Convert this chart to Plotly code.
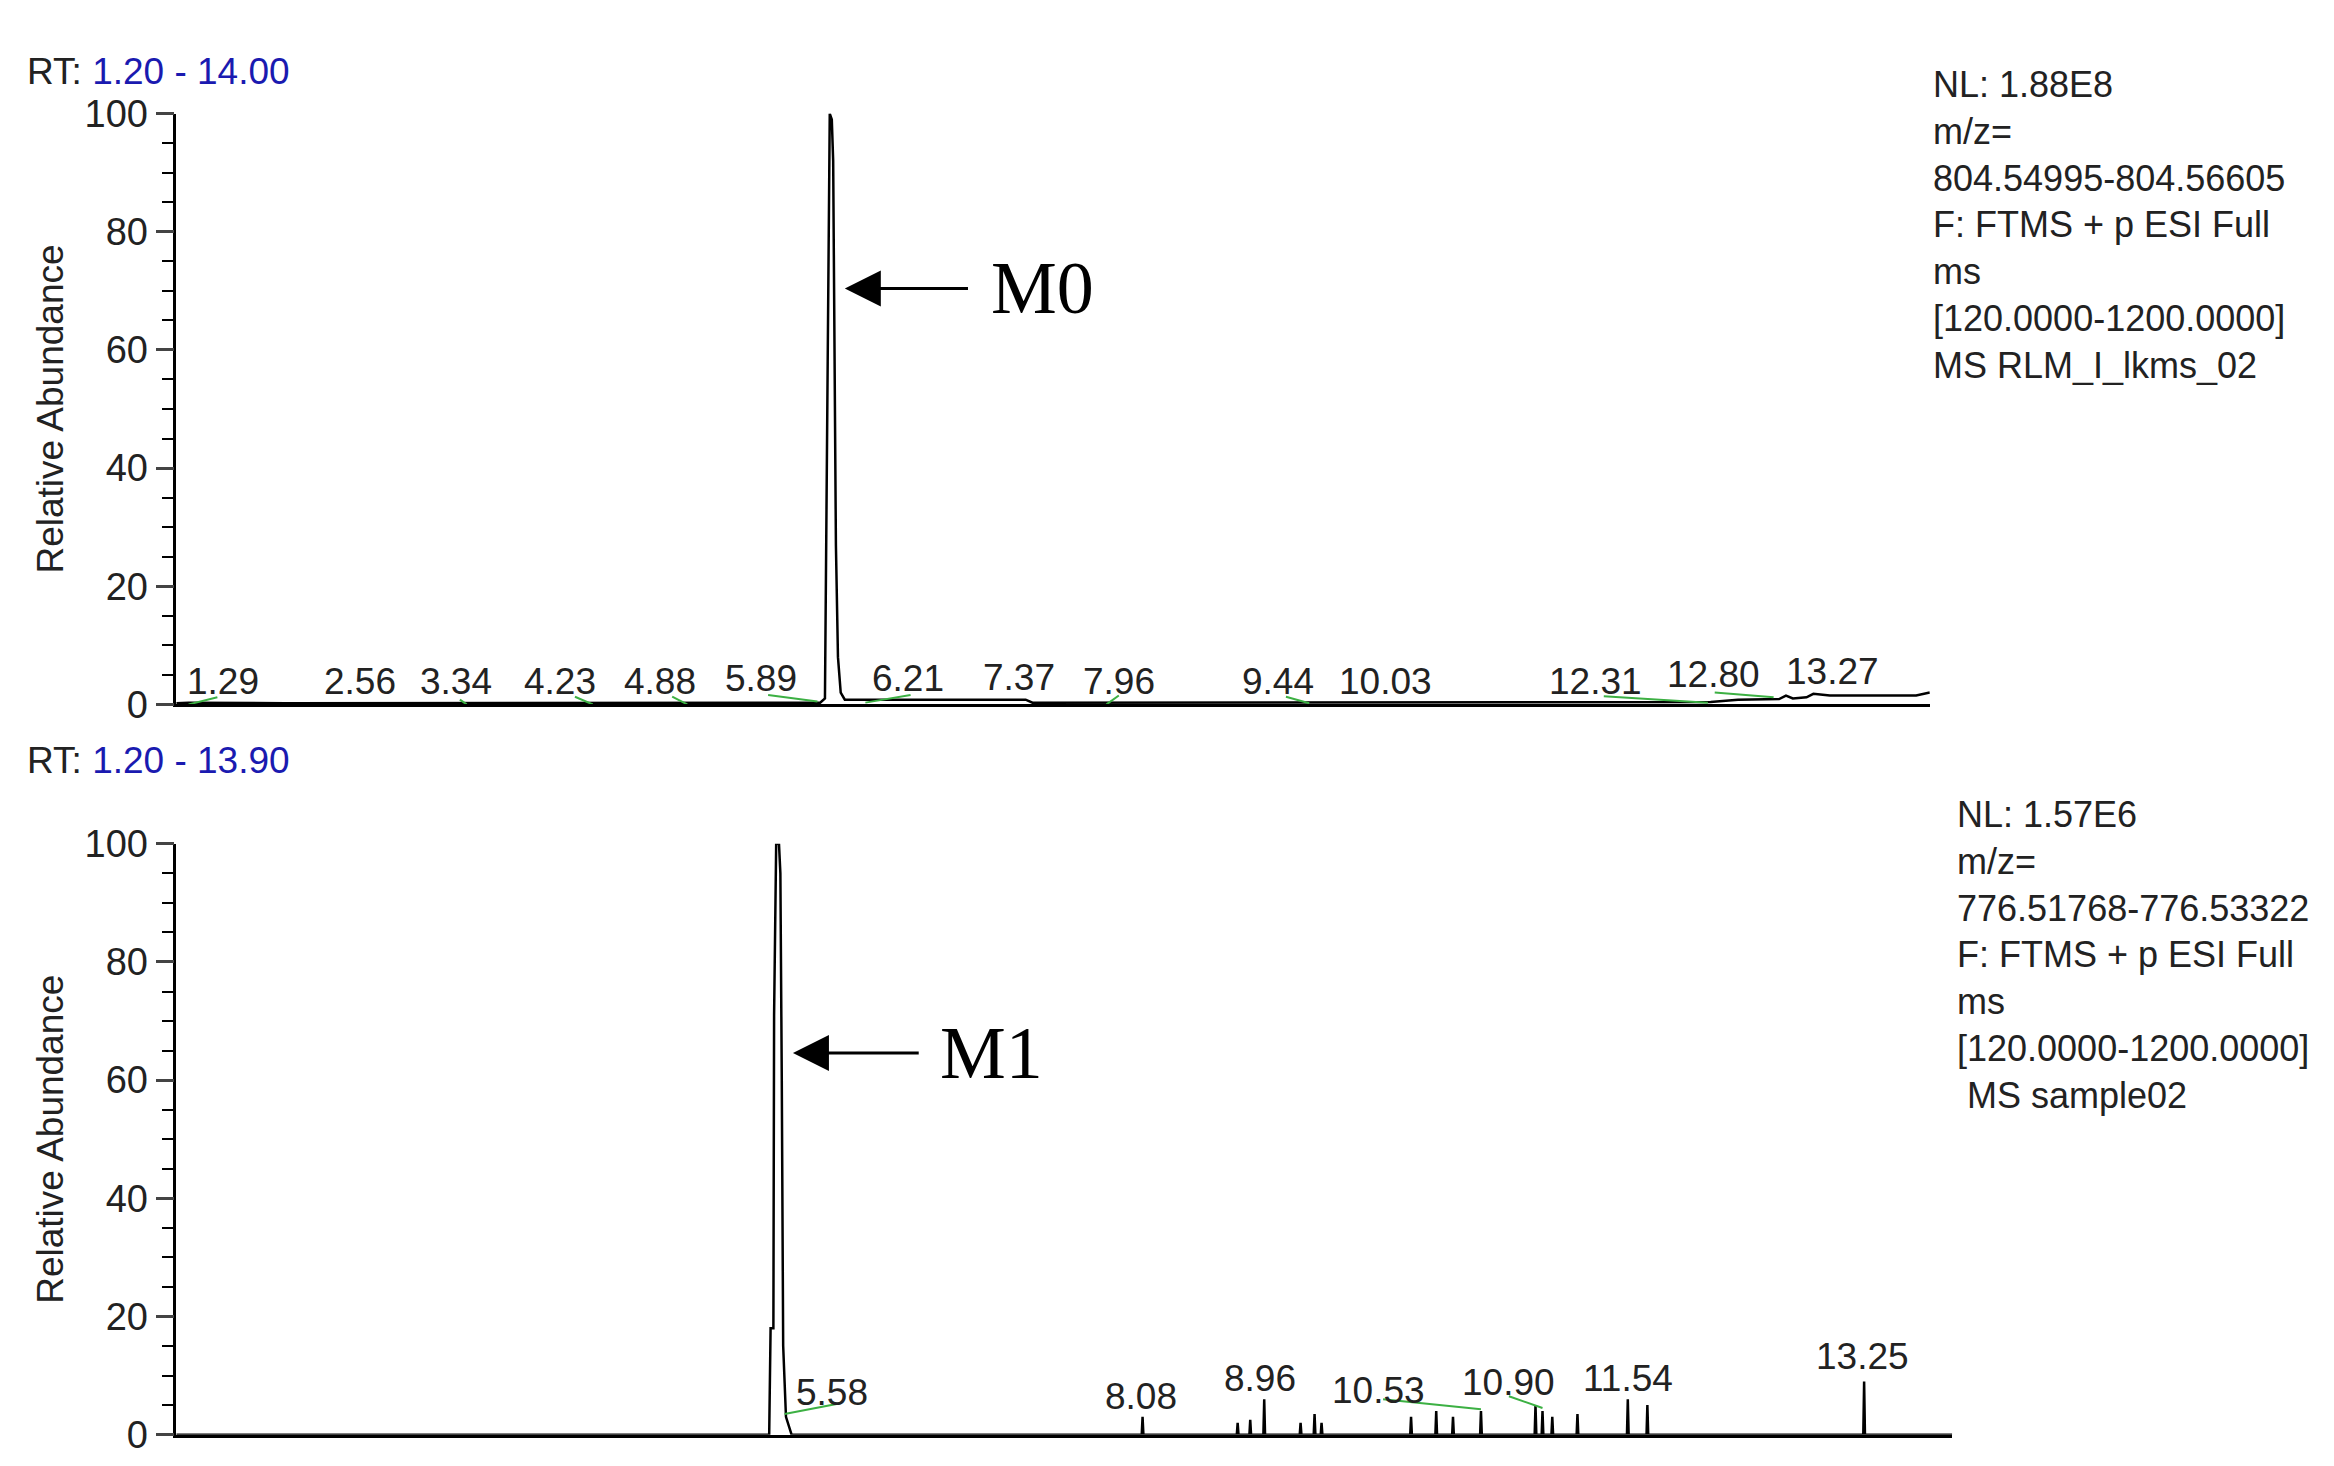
import plotly.graph_objects as go

# --- top chromatogram (M0) ---
top_rt = [1.20, 1.29, 2.0, 3.0, 4.0, 5.0, 5.90, 5.935, 5.945, 5.955, 5.97, 5.985, 5.995,
          6.005, 6.015, 6.03, 6.05, 6.08, 6.5, 7.0, 7.4, 7.45, 9.0, 11.0, 12.4, 12.6,
          12.9, 12.95, 13.0, 13.1, 13.15, 13.27, 13.5, 13.9, 14.0]
top_ab = [0.2, 0.3, 0.2, 0.2, 0.2, 0.2, 0.3, 1.0, 36, 58, 100, 99, 92,
          51, 27, 8, 2, 0.8, 0.8, 0.8, 0.8, 0.3, 0.3, 0.3, 0.4, 0.8,
          0.9, 1.5, 1.0, 1.2, 1.8, 1.5, 1.5, 1.5, 2.0]
top_labels = ["1.29", "2.56", "3.34", "4.23", "4.88", "5.89", "6.21", "7.37", "7.96",
              "9.44", "10.03", "12.31", "12.80", "13.27"]
top_label_rt = [1.54, 2.54, 3.24, 4.00, 4.73, 5.47, 6.54, 7.35, 8.08, 9.24, 10.03, 11.56, 12.42, 13.29]
top_label_ab = [3.8, 3.8, 3.8, 3.8, 3.8, 4.3, 4.3, 4.5, 3.8, 3.8, 3.8, 3.8, 5.0, 5.6]

# --- bottom chromatogram (M1) ---
bot_rt = [1.20, 5.44, 5.45, 5.47, 5.475, 5.49, 5.51, 5.52, 5.53, 5.54, 5.56, 5.60, 7.9]
bot_ab = [0.0, 0.0, 18, 18, 71, 100, 100, 95, 60, 15, 3, 0.0, 0.0]
spike_rt = [8.11, 8.79, 8.88, 8.98, 9.24, 9.34, 9.39, 10.03, 10.21, 10.33, 10.53, 10.92,
            10.97, 11.04, 11.22, 11.58, 11.72, 13.27]
spike_ab = [3, 2, 2.5, 6, 2, 3.5, 2, 3, 4, 3, 4, 5, 4, 3, 3.5, 6, 5, 9]
bot_labels = ["5.51", "5.58", "8.08", "8.96", "10.53", "10.90", "11.54", "13.25"]
bot_label_rt = [5.47, 5.89, 8.10, 8.95, 9.80, 10.73, 11.58, 13.26]
bot_label_ab = [104, 7.2, 6.5, 9.5, 7.5, 8.8, 9.5, 13.2]

# green baseline markers (start, end of integration)
top_green = [(1.29, 0, 1.50, 1.2), (3.27, 0.8, 3.32, 0), (4.11, 1.3, 4.24, 0), (4.82, 1.3, 4.93, 0),
             (5.52, 1.6, 5.88, 0.5), (6.23, 0.3, 6.56, 1.6), (7.99, 0, 8.08, 1.5), (9.30, 1.3, 9.47, 0.2),
             (11.62, 1.4, 12.38, 0.3), (12.43, 2.0, 12.86, 1.2)]
bot_green = [(5.55, 3.5, 5.95, 5.3), (9.83, 6.0, 10.53, 4.3), (10.73, 6.5, 10.97, 4.5)]

for s, h in zip(spike_rt, spike_ab):
    bot_rt += [s - 0.006, s, s + 0.006]
    bot_ab += [0.0, h, 0.0]
bot_rt += [13.90]
bot_ab += [0.0]

FONT = "Liberation Sans"
LBL = 37
fig = go.Figure()

fig.add_trace(go.Scatter(x=top_rt, y=top_ab, mode="lines", line=dict(color="black", width=2.5),
                         xaxis="x", yaxis="y", showlegend=False))
fig.add_trace(go.Scatter(x=bot_rt, y=bot_ab, mode="lines", line=dict(color="black", width=2.5),
                         xaxis="x2", yaxis="y2", showlegend=False))

for green, xa, ya in [(top_green, "x", "y"), (bot_green, "x2", "y2")]:
    for x0, y0, x1, y1 in green:
        fig.add_trace(go.Scatter(x=[x0, x1], y=[y0, y1], mode="lines", line=dict(color="#3cb043", width=2),
                                 xaxis=xa, yaxis=ya, showlegend=False))

ann = []
for t, x, y in zip(top_labels, top_label_rt, top_label_ab):
    ann.append(dict(x=x, y=y, xref="x", yref="y", text=t, showarrow=False, yanchor="middle",
                    font=dict(size=LBL, color="#222")))
ann.append(dict(x=5.98, y=104, xref="x", yref="y", text="5.98", showarrow=False,
                font=dict(size=LBL, color="#222")))
for t, x, y in zip(bot_labels, bot_label_rt, bot_label_ab):
    ann.append(dict(x=x, y=y, xref="x2", yref="y2", text=t, showarrow=False,
                    font=dict(size=LBL, color="#222")))

# arrows
ann.append(dict(x=6.08, y=70.4, ax=6.99, ay=70.4, xref="x", yref="y", axref="x", ayref="y", text="",
                showarrow=True, arrowhead=2, arrowsize=2.4, arrowwidth=3, arrowcolor="black"))
ann.append(dict(x=7.52, y=70.4, xref="x", yref="y", text="M0", showarrow=False,
                font=dict(family="Liberation Serif", size=74, color="black")))
ann.append(dict(x=5.61, y=64.6, ax=6.52, ay=64.6, xref="x2", yref="y2", axref="x2", ayref="y2", text="",
                showarrow=True, arrowhead=2, arrowsize=2.4, arrowwidth=3, arrowcolor="black"))
ann.append(dict(x=7.03, y=64.6, xref="x2", yref="y2", text="M1", showarrow=False,
                font=dict(family="Liberation Serif", size=74, color="black")))

# headers and info blocks
ann.append(dict(x=0.0072, y=0.986, xref="paper", yref="paper", xanchor="left", showarrow=False,
                text="RT: <span style='color:#1a1ab0'>1.20 - 14.00</span>", font=dict(size=LBL, color="#222")))
ann.append(dict(x=0.0072, y=0.486, xref="paper", yref="paper", xanchor="left", showarrow=False,
                text="RT: <span style='color:#1a1ab0'>1.20 - 13.90</span>", font=dict(size=LBL, color="#222")))
ann.append(dict(x=0.824, y=0.977, xref="paper", yref="paper", xanchor="left", yanchor="top", align="left",
                showarrow=False, font=dict(size=36, color="#222"),
                text="NL: 1.88E8<br>m/z=<br>804.54995-804.56605<br>F: FTMS + p ESI Full<br>ms<br>"
                     "[120.0000-1200.0000]<br>MS RLM_I_lkms_02"))
ann.append(dict(x=0.834, y=0.464, xref="paper", yref="paper", xanchor="left", yanchor="top", align="left",
                showarrow=False, font=dict(size=36, color="#222"),
                text="NL: 1.57E6<br>m/z=<br>776.51768-776.53322<br>F: FTMS + p ESI Full<br>ms<br>"
                     "[120.0000-1200.0000]<br> MS sample02"))

yax = dict(range=[0, 100], tickvals=[0, 20, 40, 60, 80, 100], ticks="outside", ticklen=18, tickwidth=2.5,
           showline=True, linecolor="black", linewidth=2.5, showgrid=False, zeroline=False,
           tickfont=dict(size=38, color="#222"),
           minor=dict(dtick=5, ticks="outside", ticklen=12, tickwidth=2, tickcolor="black"),
           title=dict(text="Relative Abundance", font=dict(size=37, color="#222"), standoff=10))
xax = dict(showline=True, linecolor="black", linewidth=3, showticklabels=False, ticks="",
           showgrid=False, zeroline=False)

fig.update_layout(
    width=2334, height=1466, autosize=False,
    margin=dict(l=0, r=0, t=0, b=0),
    paper_bgcolor="white", plot_bgcolor="white",
    font=dict(family=FONT),
    xaxis=dict(xax, domain=[0.0721, 0.8234], range=[1.20, 14.00]),
    yaxis=dict(yax, domain=[0.5257, 0.9406], anchor="x"),
    xaxis2=dict(xax, domain=[0.0721, 0.833], range=[1.20, 13.90], anchor="y2"),
    yaxis2=dict(yax, domain=[0.0129, 0.4278], anchor="x2"),
    annotations=ann,
)

fig.write_html("out.html")
